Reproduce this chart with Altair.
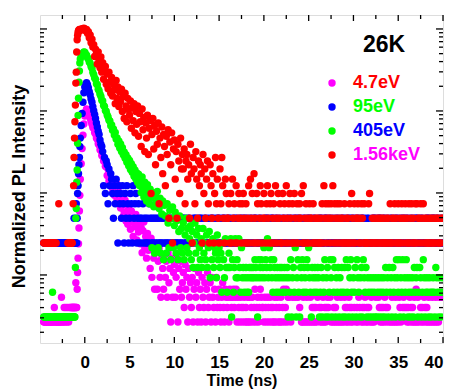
import numpy as np
import pandas as pd
import altair as alt

# ---------------- series definitions ----------------
SERIES = ["4.7eV", "95eV", "405eV", "1.56keV"]
MARKER_COLORS = ["#FF00FF", "#0000FF", "#00FF00", "#FF0000"]
LABEL_COLORS = ["#FF0000", "#00FF00", "#0000FF", "#FF00FF"]
# normalisation (intensity per detected count) for each series
COUNT_UNITS = [1 / 7483, 1 / 407, 1 / 3251, 1 / 407]

# sampling grids (ns): pre-pulse, rise (finer), decay head, tail
T_PRE = np.round(np.arange(35) * 0.1 - 5.0, 3)      # -5.0 .. -1.6
T_RISE = np.round(np.arange(20) * 0.05 - 1.5, 3)    # -1.5 .. -0.55
T_HEAD = np.round(np.arange(165) * 0.1 - 0.5, 3)    # -0.5 .. 15.9
T_TAIL = np.round(np.arange(241) * 0.1 + 16.0, 3)   # 16.0 .. 40.0

# ---- 4.7 eV (magenta) counts ----
MAG_PRE = "0000222222 2222223222 2222422323 23233"
MAG_RISE = [3, 3, 3, 3, 3, 3, 3, 3, 3, 3, 6, 3, 3, 5, 8, 12, 18, 28, 45, 70]
MAG_HEAD = [
    110, 170, 260, 380, 520,
    650, 740, 790, 770, 720, 670, 610, 560, 515, 470,
    462, 410, 392, 349, 338, 298, 287, 251, 246, 215,
    210, 184, 182, 158, 156, 122, 146, 105, 128, 96,
    112, 84, 99, 70, 91, 100, 62, 80, 55, 74,
    49, 66, 58, 39, 44, 61, 34, 53, 31, 47,
    40, 27, 45, 33, 22, 38, 29, 41, 20, 34,
    25, 31, 18, 28, 14, 26, 33, 16, 22, 12,
    24, 15, 19, 9, 21, 7, 17, 12, 5, 18,
    14, 5, 11, 16, 7, 4, 12, 9, 5, 13,
    7, 11, 4, 14, 6, 9, 2, 12, 4, 8,
    10, 4, 7, 12, 2, 9, 5, 11, 4, 6,
    8, 3, 10, 5, 7, 2, 9, 4, 6, 3,
    7, 2, 5, 9, 4, 6, 2, 8, 3, 5,
    2, 7, 4, 3, 6, 2, 5, 8, 3, 4,
    6, 2, 7, 4, 3, 5, 2, 7, 3, 4,
    5, 3, 2, 4, 6, 3, 2, 5, 4, 3,
]
MAG_TAIL = ("4254345345 2432432342 3242423423 5234235433 2432432432 3242342324 "
            "2352352440 2040040040 3022420242 0242323232 4032324232 3430420232 "
            "3242024202 4323243232 0302324302 3234232302 4202040043 2323243230 "
            "2024202420 2432034303 2324323242 5242032324 3232420242 0242024040 0")

# ---- 95 eV (blue) counts ----
BLU_PRE = "0000111111 1111111111 1111111111 11111"
BLU_RISE = [1, 1, 1, 1, 1, 1, 2, 1, 1, 1, 1, 3, 1, 2, 4, 5, 7, 9, 11, 15]
BLU_HEAD = [
    19, 27, 38, 52, 68,
    80, 86, 90, 85, 78, 70, 64, 57, 52, 46,
    41, 37, 33, 29, 26, 23, 21, 18, 16, 15,
    13, 5, 11, 4, 10, 9, 3, 8, 5, 7,
    6, 4, 2, 5, 3, 6, 4, 1, 5, 3,
    4, 2, 5, 3, 1, 4, 2, 5, 3, 1,
    2, 4, 3, 1, 5, 2, 3, 4, 1, 2,
    3, 1, 2, 2, 1, 3, 2, 1, 2, 1,
    2, 1, 3, 2, 1, 2, 1, 2, 1, 2,
    1, 2, 1, 2, 1, 1, 2, 1, 2, 1,
    2, 1, 1, 2, 1, 2, 1, 2, 1, 2,
    1, 2, 1, 1, 2, 1, 2, 1, 1, 2,
    2, 1, 2, 1, 1, 2, 1, 2, 1, 1,
    1, 2, 1, 2, 2, 1, 1, 2, 1, 2,
    2, 1, 1, 2, 1, 2, 1, 1, 2, 1,
    1, 2, 2, 1, 2, 1, 1, 2, 1, 2,
    2, 1, 1, 2, 1, 2, 2, 1, 1, 2,
]
BLU_TAIL = ("1212112121 2112121212 1211212112 2121121211 1212211212 2112121121 "
            "1212112121 2112121212 1211212112 2121121211 1212211212 2112121121 "
            "1212112121 2112121212 1211212112 2121121211 1212211212 2112121121 "
            "1212112121 2112121212 1211212112 2121121211 1212211212 2112121121 1")

# ---- 405 eV (green) counts ----
GRN_PRE = "0000111111 1111211111 1111111111 11111"
GRN_RISE = [1, 1, 1, 1, 1, 1, 1, 1, 1, 4, 16, 21, 44, 62, 131, 287, 465, 730, 1000, 1250]
GRN_HEAD = [
    1400, 1520, 1600, 1650, 1700,
    1690, 1600, 1560, 1450, 1400, 1290, 1240, 1130, 1080, 960,
    900, 820, 790, 700, 680, 600, 575, 520, 490, 440,
    430, 380, 370, 330, 320, 290, 275, 250, 245, 215,
    220, 189, 196, 165, 178, 148, 152, 128, 140, 115,
    129, 104, 116, 95, 103, 86, 95, 77, 87, 70,
    81, 63, 74, 58, 68, 52, 62, 48, 57, 44,
    55, 40, 47, 33, 51, 37, 29, 44, 35, 26,
    41, 31, 24, 36, 28, 7, 33, 22, 6, 30,
    25, 34, 7, 21, 28, 6, 18, 26, 5, 23,
    17, 6, 24, 14, 7, 20, 5, 16, 22, 7,
    13, 19, 6, 15, 5, 11, 17, 7, 12, 6,
    14, 5, 10, 16, 7, 12, 6, 9, 13, 5,
    11, 4, 8, 14, 6, 10, 4, 12, 7, 5,
    9, 4, 12, 6, 8, 5, 10, 4, 7, 11,
    3, 8, 5, 9, 4, 7, 6, 3, 10, 5,
    7, 4, 6, 2, 8, 5, 3, 9, 4, 2,
]
GRN_TAIL = ("4649152493 5394273423 4232434343 5431534534 7354937453 2543243243 "
            "4234234132 5134271352 1435243254 7321432432 4312413251 3412531524 "
            "1324132412 4152413521 3241532134 1532413213 2132131231 2312314231 "
            "4231423153 2513251325 3123123142 3412431253 1232132123 2143213213 2")

# ---- 1.56 keV (red) counts ----
RED_PRE = "0000111111 1111111110 0300000000 01111"
RED_RISE = [1, 1, 1, 0, 3, 5, 11, 19, 30, 48, 89, 121, 213, 300, 340, 370, 390, 380, 400, 395]
RED_HEAD = [
    402, 396, 410, 405, 415,
    407, 388, 402, 362, 378, 318, 345, 276, 305, 246,
    262, 188, 231, 203, 152, 214, 166, 137, 185, 121,
    158, 99, 131, 142, 86, 115, 76, 121, 92, 67,
    104, 62, 87, 74, 50, 96, 58, 80, 46, 69,
    53, 75, 40, 61, 33, 67, 47, 30, 58, 42,
    36, 54, 25, 45, 31, 50, 22, 40, 28, 47,
    20, 38, 30, 15, 43, 24, 34, 13, 29, 19,
    36, 12, 25, 31, 4, 21, 33, 14, 27, 9,
    23, 16, 29, 3, 19, 11, 26, 7, 21, 15,
    5, 20, 12, 24, 2, 17, 9, 22, 1, 14,
    18, 6, 13, 2, 16, 10, 4, 19, 8, 12,
    8, 14, 3, 10, 12, 6, 9, 2, 16, 7,
    1, 11, 8, 3, 13, 6, 2, 10, 5, 9,
    7, 1, 12, 4, 8, 2, 6, 10, 3, 1,
    9, 5, 2, 7, 1, 4, 11, 3, 6, 2,
    1, 8, 3, 11, 5, 2, 1, 6, 4, 2,
]
RED_TAIL = ("2314162315 1243213421 3125162417 2143125312 4213521341 2315214231 "
            "1423152134 2131421312 3241512312 1322131212 1211231523 1232132513 "
            "2132132121 3121213142 1312231213 2131111341 1212112121 2121211212 "
            "1312123121 3121321231 2131231213 1321231231 2121121212 1212211212 2")

# axis tick positions
X_LABELS = [0, 5, 10, 15, 20, 25, 30, 35, 40]
X_MINOR = [-2.5, 2.5, 7.5, 12.5, 17.5, 22.5, 27.5, 32.5, 37.5]
Y_DOMAIN = [1.48e-4, 1.48]
Y_MAJOR = [1e-3, 1e-2, 1e-1, 1.0]
Y_MINOR = [k * 10.0 ** e for e in range(-4, 1) for k in range(2, 10)
           if Y_DOMAIN[0] <= k * 10.0 ** e <= Y_DOMAIN[1]]


def digits(s):
    return [int(c) for c in s.replace(" ", "")]


def fit(vals, n):
    vals = list(vals)[:n]
    return vals + [0] * (n - len(vals))


parts = {
    "4.7eV": (MAG_PRE, MAG_RISE, MAG_HEAD, MAG_TAIL),
    "95eV": (BLU_PRE, BLU_RISE, BLU_HEAD, BLU_TAIL),
    "405eV": (GRN_PRE, GRN_RISE, GRN_HEAD, GRN_TAIL),
    "1.56keV": (RED_PRE, RED_RISE, RED_HEAD, RED_TAIL),
}

rows = []
for name, unit in zip(SERIES, COUNT_UNITS):
    pre, rise, head, tail = parts[name]
    for grid, counts in ((T_PRE, fit(digits(pre), len(T_PRE))),
                         (T_RISE, fit(rise, len(T_RISE))),
                         (T_HEAD, fit(head, len(T_HEAD))),
                         (T_TAIL, fit(digits(tail), len(T_TAIL)))):
        for t, c in zip(grid, counts):
            if c > 0:
                rows.append({"t": float(t), "v": c * unit, "series": name})
df = pd.DataFrame(rows)

W, H = 403, 328
FONT = "Liberation Sans"
x_scale = alt.Scale(domain=[-5, 40], nice=False, zero=False)
y_scale = alt.Scale(type="log", domain=Y_DOMAIN, nice=False)

x_axis = alt.Axis(values=X_LABELS, ticks=False, tickSize=0, domain=False, grid=False,
                  labelFont=FONT, labelFontSize=17, labelFontWeight="bold",
                  labelColor="black", labelPadding=11,
                  title="Time (ns)", titleFont=FONT, titleFontSize=16,
                  titleFontWeight="bold", titleColor="black", titlePadding=2)
y_axis = alt.Axis(labels=False, ticks=False, tickSize=0, domain=False, grid=False,
                  title="Normalized PL Intensity", titleFont=FONT, titleFontSize=18,
                  titleFontWeight="bold", titleColor="black", titlePadding=12,
                  titleY=171)

label_expr = ""
for s, c in zip(SERIES, LABEL_COLORS):
    label_expr += f"datum.label === '{s}' ? '{c}' : "
label_expr += "'black'"

points = alt.Chart(df).mark_circle(size=55, opacity=1, clip=True).encode(
    x=alt.X("t:Q", scale=x_scale, axis=x_axis),
    y=alt.Y("v:Q", scale=y_scale, axis=y_axis),
    color=alt.Color("series:N",
                    scale=alt.Scale(domain=SERIES, range=MARKER_COLORS),
                    legend=alt.Legend(orient="none", legendX=283, legendY=59, title=None,
                                      symbolType="circle", symbolSize=55, symbolStrokeWidth=0,
                                      labelFont=FONT, labelFontSize=18, labelFontWeight="bold",
                                      labelOffset=12, rowPadding=6, padding=0,
                                      labelColor=alt.ExprRef(expr=label_expr))),
)


def xticks(vals, y0, y1):
    return alt.Chart(pd.DataFrame({"t": vals})).mark_rule(color="black", strokeWidth=1.3).encode(
        x=alt.X("t:Q", scale=x_scale, axis=x_axis), y=alt.value(y0), y2=alt.value(y1))


def yticks(vals, x0, x1):
    return alt.Chart(pd.DataFrame({"v": vals})).mark_rule(color="black", strokeWidth=1.3).encode(
        y=alt.Y("v:Q", scale=y_scale, axis=y_axis), x=alt.value(x0), x2=alt.value(x1))


ticks = [
    xticks(X_LABELS, H, H - 6), xticks(X_MINOR, H, H - 4),
    xticks(X_LABELS, 0, 6), xticks(X_MINOR, 0, 4),
    yticks(Y_MAJOR, 0, 7), yticks(Y_MINOR, 0, 4),
    yticks(Y_MAJOR, W, W - 7), yticks(Y_MINOR, W, W - 4),
]

temp = alt.Chart(pd.DataFrame({"label": ["26K"]})).mark_text(
    font=FONT, fontSize=23, fontWeight="bold", color="black", align="center", baseline="middle"
).encode(x=alt.value(344), y=alt.value(30), text="label:N")

chart = alt.layer(points, *ticks, temp).properties(
    width=W, height=H,
    padding={"left": 40, "top": 15, "right": 6, "bottom": 48},
    autosize=alt.AutoSizeParams(type="none"),
).configure_view(stroke="black", strokeWidth=1.5).configure(background="white")

chart.save("out.html", embed_options={"renderer": "svg", "actions": False})
